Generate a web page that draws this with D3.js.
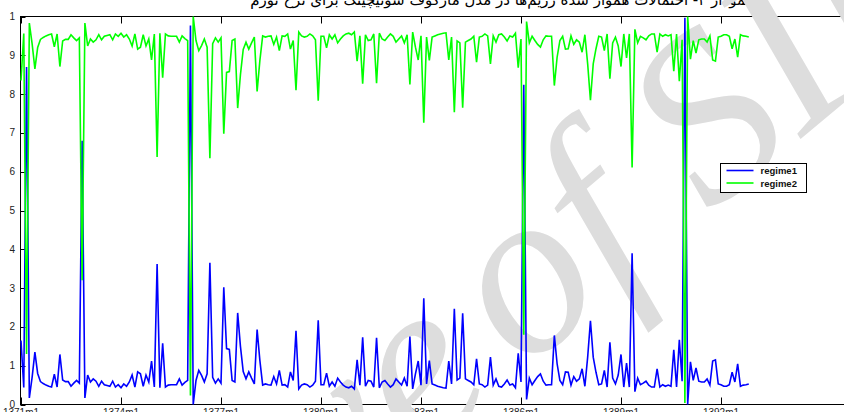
<!DOCTYPE html>
<head>
<meta charset="utf-8">
<title>regime probabilities</title>
<style>
  body { margin: 0; background: #fff; }
  svg { display: block; }
</style>
</head>
<body>
<svg width="844" height="412"></svg>
<script src="https://d3js.org/d3.v7.min.js"></script>
<script>

    // monthly series, 1371m1 onwards
    var regime1 = [
        0.165, 0.044, 0.870, 0.017, 0.070, 0.135, 0.080, 0.059, 0.054, 0.050,
        0.047, 0.045, 0.078, 0.045, 0.129, 0.063, 0.059, 0.059, 0.047, 0.055,
        0.062, 0.055, 0.680, 0.017, 0.076, 0.058, 0.066, 0.060, 0.047, 0.060,
        0.051, 0.049, 0.047, 0.060, 0.045, 0.051, 0.043, 0.053, 0.047, 0.058,
        0.076, 0.045, 0.084, 0.079, 0.047, 0.076, 0.058, 0.112, 0.045, 0.362,
        0.043, 0.158, 0.045, 0.050, 0.051, 0.051, 0.051, 0.066, 0.050, 0.057,
        0.062, 0.977, 0.000, 0.062, 0.088, 0.075, 0.058, 0.079, 0.365, 0.070,
        0.055, 0.066, 0.055, 0.302, 0.144, 0.142, 0.062, 0.058, 0.236, 0.150,
        0.085, 0.066, 0.084, 0.068, 0.053, 0.193, 0.113, 0.050, 0.053, 0.051,
        0.050, 0.072, 0.053, 0.088, 0.050, 0.051, 0.045, 0.084, 0.062, 0.190,
        0.040, 0.050, 0.053, 0.051, 0.045, 0.050, 0.060, 0.217, 0.051, 0.051,
        0.081, 0.047, 0.058, 0.047, 0.068, 0.058, 0.050, 0.045, 0.043, 0.047,
        0.040, 0.115, 0.050, 0.173, 0.047, 0.062, 0.060, 0.045, 0.172, 0.043,
        0.058, 0.062, 0.053, 0.045, 0.051, 0.066, 0.058, 0.050, 0.068, 0.047,
        0.175, 0.040, 0.079, 0.112, 0.050, 0.274, 0.053, 0.113, 0.053, 0.050,
        0.047, 0.045, 0.043, 0.042, 0.112, 0.053, 0.247, 0.063, 0.068, 0.235,
        0.066, 0.062, 0.058, 0.051, 0.118, 0.053, 0.051, 0.045, 0.050, 0.122,
        0.050, 0.066, 0.047, 0.045, 0.053, 0.063, 0.050, 0.053, 0.043, 0.132,
        0.058, 0.824, 0.013, 0.068, 0.051, 0.062, 0.072, 0.079, 0.060, 0.050,
        0.051, 0.051, 0.178, 0.105, 0.062, 0.051, 0.084, 0.083, 0.050, 0.072,
        0.060, 0.066, 0.092, 0.047, 0.122, 0.216, 0.122, 0.083, 0.051, 0.053,
        0.088, 0.045, 0.160, 0.068, 0.053, 0.076, 0.129, 0.045, 0.107, 0.045,
        0.390, 0.033, 0.068, 0.051, 0.055, 0.060, 0.050, 0.045, 0.045, 0.092,
        0.045, 0.051, 0.047, 0.050, 0.047, 0.141, 0.045, 0.167, 0.060, 0.997,
        0.000, 0.110, 0.062, 0.094, 0.060, 0.058, 0.058, 0.066, 0.050, 0.112,
        0.115, 0.053, 0.051, 0.047, 0.047, 0.051, 0.083, 0.058, 0.105, 0.047,
        0.050, 0.051, 0.053
    ];

    var regime2 = [
        0.835, 0.956, 0.130, 0.983, 0.930, 0.865, 0.920, 0.941, 0.946, 0.950,
        0.953, 0.955, 0.922, 0.955, 0.871, 0.937, 0.941, 0.941, 0.953, 0.945,
        0.938, 0.945, 0.320, 0.983, 0.924, 0.942, 0.934, 0.940, 0.953, 0.940,
        0.949, 0.951, 0.953, 0.940, 0.955, 0.949, 0.957, 0.947, 0.953, 0.942,
        0.924, 0.955, 0.916, 0.921, 0.953, 0.924, 0.942, 0.888, 0.955, 0.638,
        0.957, 0.842, 0.955, 0.950, 0.949, 0.949, 0.949, 0.934, 0.950, 0.943,
        0.938, 0.023, 1.000, 0.938, 0.912, 0.925, 0.942, 0.921, 0.635, 0.930,
        0.945, 0.934, 0.945, 0.698, 0.856, 0.858, 0.938, 0.942, 0.764, 0.850,
        0.915, 0.934, 0.916, 0.932, 0.947, 0.807, 0.887, 0.950, 0.947, 0.949,
        0.950, 0.928, 0.947, 0.912, 0.950, 0.949, 0.955, 0.916, 0.938, 0.810,
        0.960, 0.950, 0.947, 0.949, 0.955, 0.950, 0.940, 0.783, 0.949, 0.949,
        0.919, 0.953, 0.942, 0.953, 0.932, 0.942, 0.950, 0.955, 0.957, 0.953,
        0.960, 0.885, 0.950, 0.827, 0.953, 0.938, 0.940, 0.955, 0.828, 0.957,
        0.942, 0.938, 0.947, 0.955, 0.949, 0.934, 0.942, 0.950, 0.932, 0.953,
        0.825, 0.960, 0.921, 0.888, 0.950, 0.726, 0.947, 0.887, 0.947, 0.950,
        0.953, 0.955, 0.957, 0.958, 0.888, 0.947, 0.753, 0.937, 0.932, 0.765,
        0.934, 0.938, 0.942, 0.949, 0.882, 0.947, 0.949, 0.955, 0.950, 0.878,
        0.950, 0.934, 0.953, 0.955, 0.947, 0.937, 0.950, 0.947, 0.957, 0.868,
        0.942, 0.180, 0.987, 0.932, 0.949, 0.938, 0.928, 0.921, 0.940, 0.950,
        0.949, 0.949, 0.822, 0.895, 0.938, 0.949, 0.916, 0.917, 0.950, 0.928,
        0.940, 0.934, 0.908, 0.953, 0.878, 0.784, 0.878, 0.917, 0.949, 0.947,
        0.912, 0.955, 0.840, 0.932, 0.947, 0.924, 0.871, 0.955, 0.893, 0.955,
        0.611, 0.967, 0.932, 0.949, 0.945, 0.940, 0.950, 0.955, 0.955, 0.908,
        0.955, 0.949, 0.953, 0.950, 0.953, 0.859, 0.955, 0.833, 0.940, 0.004,
        1.000, 0.890, 0.938, 0.906, 0.940, 0.942, 0.942, 0.934, 0.950, 0.888,
        0.885, 0.947, 0.949, 0.953, 0.953, 0.949, 0.917, 0.942, 0.895, 0.953,
        0.950, 0.949, 0.947
    ];

    // x ticks every 3 years (month index from 1371m1)
    var xTickIdx = [0, 36, 72, 108, 144, 180, 216, 252];
    var xTickLabels = ["1371m1", "1374m1", "1377m1", "1380m1", "1383m1", "1386m1", "1389m1", "1392m1"];
    var yTicks = [0, 0.1, 0.2, 0.3, 0.4, 0.5, 0.6, 0.7, 0.8, 0.9, 1];
    var yTickLabels = ["0", "1", "2", "3", "4", "5", "6", "7", "8", "9", "1"];
    var seriesNames = ["regime1", "regime2"];
    var seriesColors = ["#0000ff", "#00ff00"];
    var title = "نمودار ۳- احتمالات هموار شده رژیم‌ها در مدل مارکوف سوئیچینگ برای نرخ تورم";

    var svg = d3.select("svg");

    // plot box (note: "top" is reserved on window, so use a prefix)
    var pLeft = 20.5, pTop = 16.5, pBottom = 404.5, pRight = 860;

    var x = d3.scaleLinear().domain([0, 36]).range([21, 121]);
    var y = d3.scaleLinear().domain([0, 1]).range([pBottom, pTop]);

    // title (cut by the top edge)
    svg.append("text")
        .attr("x", 500).attr("y", 5)
        .attr("text-anchor", "middle")
        .attr("direction", "rtl")
        .style("font-family", "DejaVu Sans")
        .style("font-size", "15px")
        .attr("fill", "#000")
        .text(title);

    // frame
    svg.append("rect")
        .attr("x", pLeft).attr("y", pTop)
        .attr("width", pRight - pLeft).attr("height", pBottom - pTop)
        .attr("fill", "#fff")
        .attr("stroke", "#000")
        .attr("stroke-width", 1);

    // y ticks & labels
    var yg = svg.append("g");
    yg.selectAll("line").data(yTicks).enter().append("line")
        .attr("x1", pLeft).attr("x2", pLeft + 5)
        .attr("y1", function(d) { return Math.round(y(d)) + 0.5; })
        .attr("y2", function(d) { return Math.round(y(d)) + 0.5; })
        .attr("stroke", "#000");
    yg.selectAll("text").data(yTicks).enter().append("text")
        .attr("x", 15)
        .attr("y", function(d) { return y(d) + 3.5; })
        .attr("text-anchor", "end")
        .style("font-family", "Liberation Sans, Arial")
        .style("font-size", "10px")
        .attr("fill", "#222")
        .text(function(d, i) { return yTickLabels[i]; });

    // x ticks top and bottom, labels under
    var xg = svg.append("g");
    xg.selectAll("line.b").data(xTickIdx).enter().append("line")
        .attr("class", "b")
        .attr("x1", function(d) { return Math.round(x(d)) + 0.5; })
        .attr("x2", function(d) { return Math.round(x(d)) + 0.5; })
        .attr("y1", pBottom).attr("y2", pBottom - 7)
        .attr("stroke", "#000");
    xg.selectAll("line.t").data(xTickIdx).enter().append("line")
        .attr("class", "t")
        .attr("x1", function(d) { return Math.round(x(d)) + 0.5; })
        .attr("x2", function(d) { return Math.round(x(d)) + 0.5; })
        .attr("y1", pTop).attr("y2", pTop + 7)
        .attr("stroke", "#000");
    xg.selectAll("text").data(xTickIdx).enter().append("text")
        .attr("x", function(d) { return x(d); })
        .attr("y", 416)
        .attr("text-anchor", "middle")
        .style("font-family", "Liberation Sans, Arial")
        .style("font-size", "10px")
        .attr("fill", "#222")
        .text(function(d, i) { return xTickLabels[i]; });

    // watermark, two pieces so the gap can be tightened
    var wm = svg.append("g")
        .style("font-family", "Liberation Serif")
        .style("font-style", "italic")
        .style("font-size", "238px")
        .attr("fill", "#dddddd");
    wm.append("text")
        .attr("transform", "translate(500.7,392.9) rotate(-40)")
        .attr("text-anchor", "end")
        .text("Archive");
    wm.append("text")
        .attr("transform", "translate(522.6,372.2) rotate(-40)")
        .text("of SID");

    // lines
    var line = d3.line()
        .x(function(d, i) { return x(i); })
        .y(function(d) { return y(d); });

    var data = [regime1, regime2];
    svg.append("g").selectAll("path").data(data).enter().append("path")
        .attr("d", line)
        .attr("fill", "none")
        .attr("stroke", function(d, i) { return seriesColors[i]; })
        .attr("stroke-width", 1.6)
        .attr("stroke-linejoin", "miter");

    // legend
    var lg = svg.append("g").attr("transform", "translate(720.5,163.5)");
    lg.append("rect")
        .attr("width", 86).attr("height", 29)
        .attr("fill", "#fff").attr("stroke", "#000");
    seriesNames.forEach(function(name, i) {
        var yy = 7 + i * 12.5;
        lg.append("line")
            .attr("x1", 6).attr("x2", 33)
            .attr("y1", yy).attr("y2", yy)
            .attr("stroke", seriesColors[i]).attr("stroke-width", 1.6);
        lg.append("text")
            .attr("x", 40).attr("y", yy + 3.5)
            .style("font-family", "Liberation Sans, Arial")
            .style("font-size", "9.5px")
            .style("font-weight", "bold")
            .attr("fill", "#111")
            .text(name);
    });

</script>
</body>
